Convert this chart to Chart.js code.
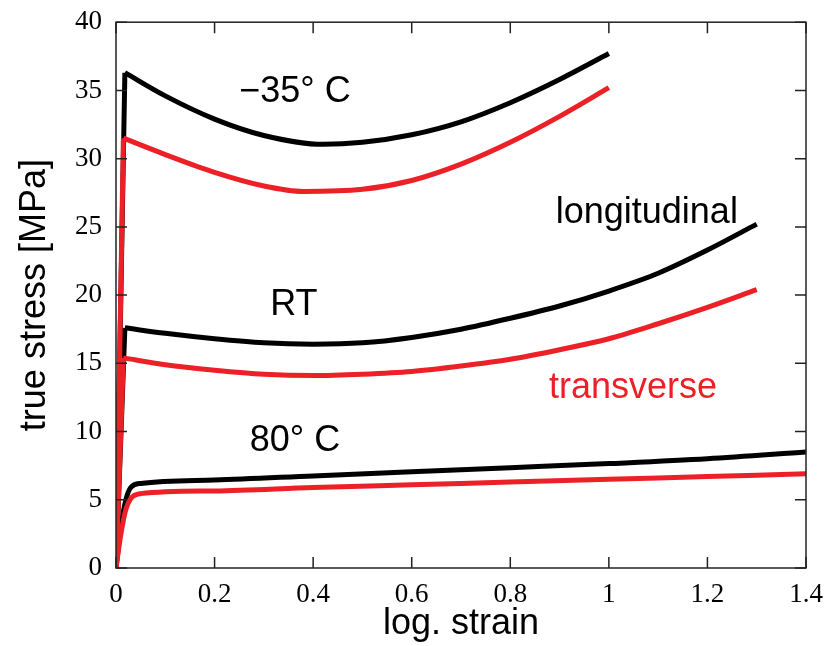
<!DOCTYPE html>
<html>
<head>
<meta charset="utf-8">
<script src="https://cdn.jsdelivr.net/npm/chart.js@4.4.1/dist/chart.umd.min.js"></script>
<style>
  html, body { margin: 0; padding: 0; background: #fff; }
  #wrap { width: 832px; height: 646px; }
</style>
</head>
<body>
<div id="wrap"><canvas id="chart"></canvas></div>
<script>
// -35 C : elastic rise then flow curve
const coldRiseLong = [0, 0.018];
const coldRiseLongY = [0, 36.3];
const coldStrain = [0.018, 0.1, 0.2, 0.3, 0.42, 0.5, 0.6, 0.7, 0.8, 0.9, 1.0];
const coldLong = [36.3, 34.6, 32.9, 31.7, 31.05, 31.2, 31.75, 32.7, 34.1, 35.8, 37.7];
const coldRiseTrans = [0, 0.015];
const coldRiseTransY = [0, 31.5];
const coldTransStrain = [0.015, 0.1, 0.2, 0.3, 0.38, 0.5, 0.6, 0.7, 0.8, 0.9, 1.0];
const coldTrans = [31.5, 30.3, 29.0, 28.0, 27.6, 27.75, 28.4, 29.6, 31.2, 33.1, 35.2];

// room temperature
const rtRiseLong = [0, 0.018];
const rtRiseLongY = [0, 17.6];
const rtStrain = [0.018, 0.1, 0.2, 0.3, 0.4, 0.5, 0.6, 0.7, 0.8, 0.9, 1.0, 1.1, 1.2, 1.3];
const rtLong = [17.6, 17.2, 16.8, 16.5, 16.4, 16.5, 16.9, 17.5, 18.3, 19.2, 20.3, 21.6, 23.3, 25.2];
const rtRiseTrans = [0, 0.015];
const rtRiseTransY = [0, 15.4];
const rtTransStrain = [0.015, 0.1, 0.2, 0.3, 0.4, 0.5, 0.6, 0.7, 0.8, 0.9, 1.0, 1.1, 1.2, 1.3];
const rtTrans = [15.4, 14.9, 14.5, 14.2, 14.1, 14.2, 14.4, 14.8, 15.3, 16.0, 16.8, 17.9, 19.1, 20.4];

// 80 C
const hotStrain = [0, 0.01, 0.02, 0.03, 0.05, 0.2, 0.4, 0.6, 0.8, 1.0, 1.2, 1.4];
const hotLong = [0, 3.0, 5.0, 5.9, 6.2, 6.45, 6.75, 7.05, 7.35, 7.65, 8.0, 8.5];
const hotTrans = [0, 2.5, 4.3, 5.1, 5.45, 5.65, 5.9, 6.1, 6.3, 6.5, 6.7, 6.9];

const xTicks = [0, 0.2, 0.4, 0.6, 0.8, 1, 1.2, 1.4];
const yTicks = [0, 5, 10, 15, 20, 25, 30, 35, 40];

const BLACK = '#000000';
const RED = '#ec2027';

const labels = [
  { text: '\u221235\u00b0 C', x: 0.363, y: 34.9, color: BLACK },
  { text: 'longitudinal', x: 1.077, y: 26.0, color: BLACK },
  { text: 'RT', x: 0.361, y: 19.3, color: BLACK },
  { text: 'transverse', x: 1.049, y: 13.2, color: RED },
  { text: '80\u00b0 C', x: 0.363, y: 9.3, color: BLACK }
];

function pts(xs, ys) {
  return xs.map((x, i) => ({ x: x, y: ys[i] }));
}

function line(xs, ys, color, smooth) {
  return {
    data: pts(xs, ys),
    borderColor: color,
    backgroundColor: color,
    borderWidth: 5,
    pointRadius: 0,
    showLine: true,
    fill: false,
    borderCapStyle: 'butt',
    borderJoinStyle: 'miter',
    tension: smooth ? 0.4 : 0,
    cubicInterpolationMode: smooth ? 'monotone' : 'default'
  };
}

const frame = {
  id: 'frame',
  afterDatasetsDraw(chart) {
    const c = chart.ctx;
    const a = chart.chartArea;
    const xs = chart.scales.x, ys = chart.scales.y;
    c.save();
    c.strokeStyle = '#222';
    c.lineWidth = 1.5;
    c.strokeRect(a.left, a.top, a.right - a.left, a.bottom - a.top);
    const t = 11;
    c.beginPath();
    xTicks.forEach(v => {
      const px = xs.getPixelForValue(v);
      c.moveTo(px, a.bottom); c.lineTo(px, a.bottom - t);
      c.moveTo(px, a.top); c.lineTo(px, a.top + t);
    });
    yTicks.forEach(v => {
      const py = ys.getPixelForValue(v);
      c.moveTo(a.left, py); c.lineTo(a.left + t, py);
      c.moveTo(a.right, py); c.lineTo(a.right - t, py);
    });
    c.stroke();

    c.font = '36px "Liberation Sans", Arial, sans-serif';
    c.textAlign = 'center';
    c.textBaseline = 'middle';
    labels.forEach(l => {
      c.fillStyle = l.color;
      c.fillText(l.text, xs.getPixelForValue(l.x), ys.getPixelForValue(l.y));
    });
    c.restore();
  }
};

const ctx = document.getElementById('chart').getContext('2d');
const myChart = new Chart(ctx, {
  type: 'scatter',
  data: {
    datasets: [
      line(coldRiseTrans, coldRiseTransY, RED, false),
      line(coldTransStrain, coldTrans, RED, true),
      line(rtRiseTrans, rtRiseTransY, RED, false),
      line(rtTransStrain, rtTrans, RED, true),
      line(hotStrain, hotTrans, RED, true),
      line(coldRiseLong, coldRiseLongY, BLACK, false),
      line(coldStrain, coldLong, BLACK, true),
      line(rtRiseLong, rtRiseLongY, BLACK, false),
      line(rtStrain, rtLong, BLACK, true),
      line(hotStrain, hotLong, BLACK, true)
    ]
  },
  options: {
    responsive: true,
    maintainAspectRatio: false,
    animation: false,
    layout: { padding: { top: 18, right: 26, left: 0, bottom: 0 } },
    scales: {
      x: {
        type: 'linear',
        min: 0,
        max: 1.4,
        grid: { display: false },
        border: { display: false },
        ticks: {
          stepSize: 0.2,
          padding: 3,
          color: '#000',
          font: { family: '"Liberation Serif", "Times New Roman", serif', size: 27 },
          callback: v => String(Number(v.toFixed(1)))
        },
        title: {
          display: true,
          text: 'log. strain',
          color: '#000',
          font: { family: '"Liberation Sans", Arial, sans-serif', size: 36 },
          padding: 0
        },
        afterFit: s => { s.height = 78; }
      },
      y: {
        type: 'linear',
        min: 0,
        max: 40,
        grid: { display: false },
        border: { display: false },
        ticks: {
          stepSize: 5,
          padding: 6,
          color: '#000',
          font: { family: '"Liberation Serif", "Times New Roman", serif', size: 27 }
        },
        title: {
          display: true,
          text: 'true stress [MPa]',
          color: '#000',
          font: { family: '"Liberation Sans", Arial, sans-serif', size: 36 },
          padding: { top: 13, bottom: 0 }
        },
        afterFit: s => { s.width = 116; }
      }
    },
    plugins: {
      legend: { display: false },
      tooltip: { enabled: false }
    }
  },
  plugins: [frame]
});
</script>
</body>
</html>
